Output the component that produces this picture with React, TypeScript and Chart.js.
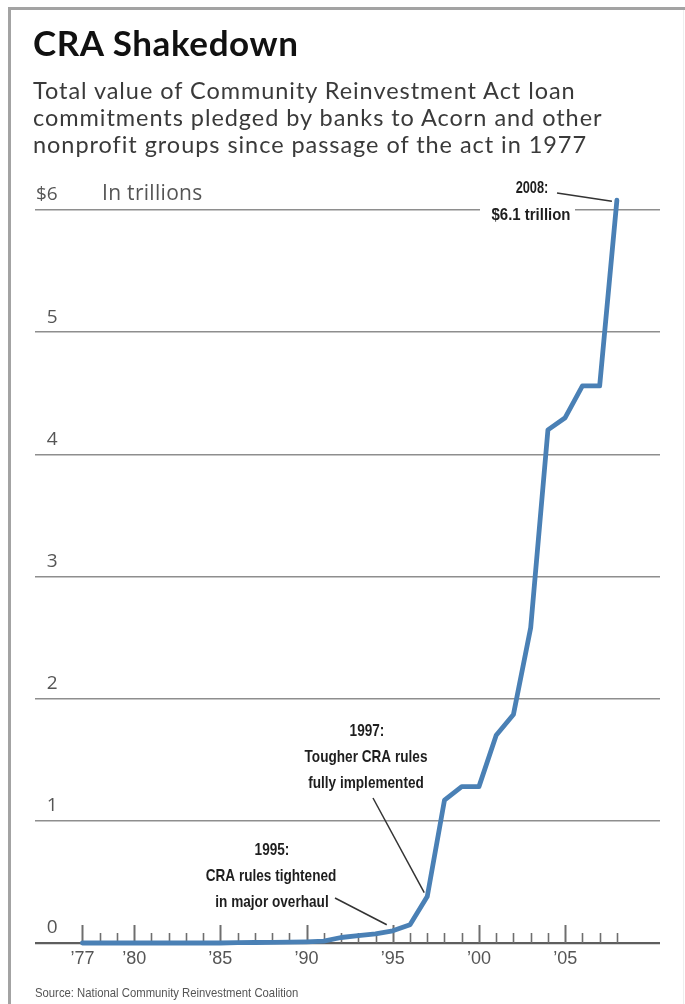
import React, { useEffect, useRef } from 'react';
import { Chart, registerables } from 'chart.js';

Chart.register(...registerables);

// ---- Data ----
const years: number[] = [
  1977, 1978, 1979, 1980, 1981, 1982, 1983, 1984, 1985, 1986, 1987,
  1988, 1989, 1990, 1991, 1992, 1993, 1994, 1995, 1996, 1997, 1998,
  1999, 2000, 2001, 2002, 2003, 2004, 2005, 2006, 2007, 2008,
];
// Cumulative CRA commitments, trillions of dollars
const commitments: number[] = [
  0, 0, 0, 0, 0, 0, 0, 0, 0, 0.003, 0.004,
  0.005, 0.007, 0.01, 0.015, 0.045, 0.06, 0.075, 0.1, 0.15, 0.38, 1.17,
  1.28, 1.28, 1.7, 1.87, 2.58, 4.2, 4.3, 4.56, 4.56, 6.08,
];
const majorYears: number[] = [1977, 1980, 1985, 1990, 1995, 2000, 2005];
const yTicks: number[] = [0, 1, 2, 3, 4, 5, 6];

const titleText = 'CRA Shakedown';
const subtitleLines: string[] = [
  'Total value of Community Reinvestment Act loan',
  'commitments pledged by banks to Acorn and other',
  'nonprofit groups since passage of the act in 1977',
];
const unitText = 'In trillions';
const sourceText = 'Source: National Community Reinvestment Coalition';

const note2008: string[] = ['2008:', '$6.1 trillion'];
const note1997: string[] = ['1997:', 'Tougher CRA rules', 'fully implemented'];
const note1995: string[] = ['1995:', 'CRA rules tightened', 'in major overhaul'];

const LINE_COLOR = '#4a80b5';
const NOTE_FONT = '"Liberation Sans", Arial, sans-serif';

function condText(ctx: CanvasRenderingContext2D, text: string, cx: number, cy: number, size: number, sx: number) {
  ctx.save();
  ctx.font = `bold ${size}px ${NOTE_FONT}`;
  ctx.textAlign = 'center';
  ctx.textBaseline = 'middle';
  ctx.fillStyle = '#1e1e1e';
  ctx.translate(cx, cy);
  ctx.scale(sx, 1);
  ctx.fillText(text, 0, 0);
  ctx.restore();
}

function leader(ctx: CanvasRenderingContext2D, x1: number, y1: number, x2: number, y2: number) {
  ctx.save();
  ctx.strokeStyle = '#333';
  ctx.lineWidth = 1.5;
  ctx.beginPath();
  ctx.moveTo(x1, y1);
  ctx.lineTo(x2, y2);
  ctx.stroke();
  ctx.restore();
}

const decorPlugin = {
  id: 'decor',
  beforeDatasetsDraw(chart: any) {
    const { ctx, scales } = chart;
    const x = scales.x;
    const y = scales.y;
    const y0 = y.getPixelForValue(0);
    ctx.save();
    ctx.strokeStyle = '#6e6e6e';
    years.forEach((yr) => {
      const major = majorYears.includes(yr);
      const px = Math.round(x.getPixelForValue(yr)) + 0.5;
      ctx.lineWidth = major ? 2 : 1.6;
      ctx.beginPath();
      ctx.moveTo(px, y0);
      ctx.lineTo(px, y0 - (major ? 18 : 10));
      ctx.stroke();
    });
    ctx.restore();
  },
  afterDatasetsDraw(chart: any) {
    const { ctx, scales } = chart;
    const x = scales.x;
    const y = scales.y;
    const i95 = years.indexOf(1995);
    const i97 = years.indexOf(1997);
    const i08 = years.indexOf(2008);
    const p95 = { x: x.getPixelForValue(1995), y: y.getPixelForValue(commitments[i95]) };
    const p97 = { x: x.getPixelForValue(1997), y: y.getPixelForValue(commitments[i97]) };
    const p08 = { x: x.getPixelForValue(2008), y: y.getPixelForValue(commitments[i08]) };

    // 2008 note, with a gap in the $6 gridline
    const y6 = y.getPixelForValue(6);
    ctx.save();
    ctx.fillStyle = '#fff';
    ctx.fillRect(480, y6 - 3, 95, 6);
    ctx.restore();
    condText(ctx, note2008[0], 532, 189, 16, 0.8);
    condText(ctx, note2008[1], 531, 215, 17, 0.88);
    leader(ctx, 557, 193, p08.x - 5, p08.y + 1);

    // 1997 note
    condText(ctx, note1997[0], 367, 731, 17, 0.8);
    condText(ctx, note1997[1], 366, 757, 17, 0.8);
    condText(ctx, note1997[2], 366, 783, 17, 0.8);
    leader(ctx, 373, 798, p97.x - 3, p97.y - 4);

    // 1995 note
    condText(ctx, note1995[0], 272, 850, 17, 0.8);
    condText(ctx, note1995[1], 271, 876, 17, 0.8);
    condText(ctx, note1995[2], 272, 902, 17, 0.8);
    leader(ctx, 335, 898, p95.x - 6, p95.y - 6);
  },
};

export default function App() {
  const canvasRef = useRef<HTMLCanvasElement | null>(null);

  useEffect(() => {
    const canvas = canvasRef.current;
    if (!canvas) return;
    const chart = new Chart(canvas, {
      type: 'line',
      data: {
        datasets: [
          {
            data: years.map((yr, i) => ({ x: yr, y: commitments[i] })),
            borderColor: LINE_COLOR,
            borderWidth: 4.8,
            pointRadius: 0,
            tension: 0,
            borderJoinStyle: 'round',
            borderCapStyle: 'round',
            fill: false,
            clip: false as any,
          },
        ],
      },
      options: {
        responsive: false,
        animation: false,
        events: [],
        layout: { padding: { left: 35, right: 25, top: 210, bottom: 0 } },
        plugins: {
          legend: { display: false },
          tooltip: { enabled: false },
          title: { display: false },
        },
        scales: {
          x: {
            type: 'linear',
            min: 1974.25,
            max: 2010.5,
            afterBuildTicks: (scale: any) => {
              scale.ticks = years.map((v) => ({ value: v }));
            },
            afterFit: (scale: any) => {
              scale.height = 61;
            },
            grid: { display: false, drawTicks: false },
            border: { display: false },
            ticks: {
              autoSkip: false,
              maxRotation: 0,
              minRotation: 0,
              padding: 5,
              color: '#555',
              font: { family: '"Liberation Sans", Arial, sans-serif', size: 18 },
              callback: (v: any) =>
                majorYears.includes(Number(v)) ? '\u2019' + String(v).slice(2) : '',
            },
          },
          y: {
            type: 'linear',
            min: 0,
            max: 6,
            afterBuildTicks: (scale: any) => {
              scale.ticks = yTicks.map((v) => ({ value: v }));
            },
            afterFit: (scale: any) => {
              scale.width = 0;
            },
            border: { display: false },
            grid: {
              drawTicks: false,
              color: (c: any) => (c.tick && c.tick.value === 0 ? '#5e5e5e' : '#8e8e8e'),
              lineWidth: (c: any) => (c.tick && c.tick.value === 0 ? 2.2 : 1.6),
            },
            ticks: {
              mirror: true,
              crossAlign: 'far',
              padding: 1,
              labelOffset: -15,
              color: '#555',
              font: { family: '"Open Sans", sans-serif', size: 19 },
              callback: (v: any) => (Number(v) === 6 ? '$6' : String(v)),
            },
          },
        },
      },
      plugins: [decorPlugin],
    } as any);
    return () => chart.destroy();
  }, []);

  return (
    <div
      style={{
        position: 'absolute',
        left: 0,
        top: 0,
        width: 685,
        height: 1004,
        background: '#fff',
        overflow: 'hidden',
      }}
    >
      <canvas
        ref={canvasRef}
        width={685}
        height={1004}
        style={{ position: 'absolute', left: 0, top: 0, width: 685, height: 1004 }}
      />
      <div style={{ position: 'absolute', left: 8, top: 7, width: 677, height: 3, background: '#a3a3a3' }} />
      <div style={{ position: 'absolute', left: 8, top: 7, width: 3, height: 997, background: '#a3a3a3' }} />
      <div style={{ position: 'absolute', left: 683, top: 10, width: 1, height: 994, background: '#eeeeee' }} />
      <div
        style={{
          position: 'absolute',
          left: 33,
          top: 25,
          fontFamily: 'Lato, sans-serif',
          fontWeight: 700,
          fontSize: 35,
          lineHeight: '35px',
          color: '#111',
          letterSpacing: 0.6,
          whiteSpace: 'nowrap',
        }}
      >
        {titleText}
      </div>
      <div
        style={{
          position: 'absolute',
          left: 33,
          top: 77,
          fontFamily: 'Lato, sans-serif',
          fontSize: 23.5,
          lineHeight: '27px',
          letterSpacing: 0.95,
          color: '#3a3a3a',
          whiteSpace: 'nowrap',
        }}
      >
        {subtitleLines.map((l, i) => (
          <div key={i}>{l}</div>
        ))}
      </div>
      <div
        style={{
          position: 'absolute',
          left: 102,
          top: 178,
          fontFamily: '"Open Sans", sans-serif',
          fontSize: 21,
          lineHeight: '28px',
          letterSpacing: 0.3,
          color: '#555',
          whiteSpace: 'nowrap',
        }}
      >
        {unitText}
      </div>
      <div
        style={{
          position: 'absolute',
          left: 35,
          top: 985,
          fontFamily: '"Liberation Sans", Arial, sans-serif',
          fontSize: 13,
          lineHeight: '16px',
          color: '#555',
          whiteSpace: 'nowrap',
          transform: 'scaleX(0.87)',
          transformOrigin: 'left center',
        }}
      >
        {sourceText}
      </div>
    </div>
  );
}
